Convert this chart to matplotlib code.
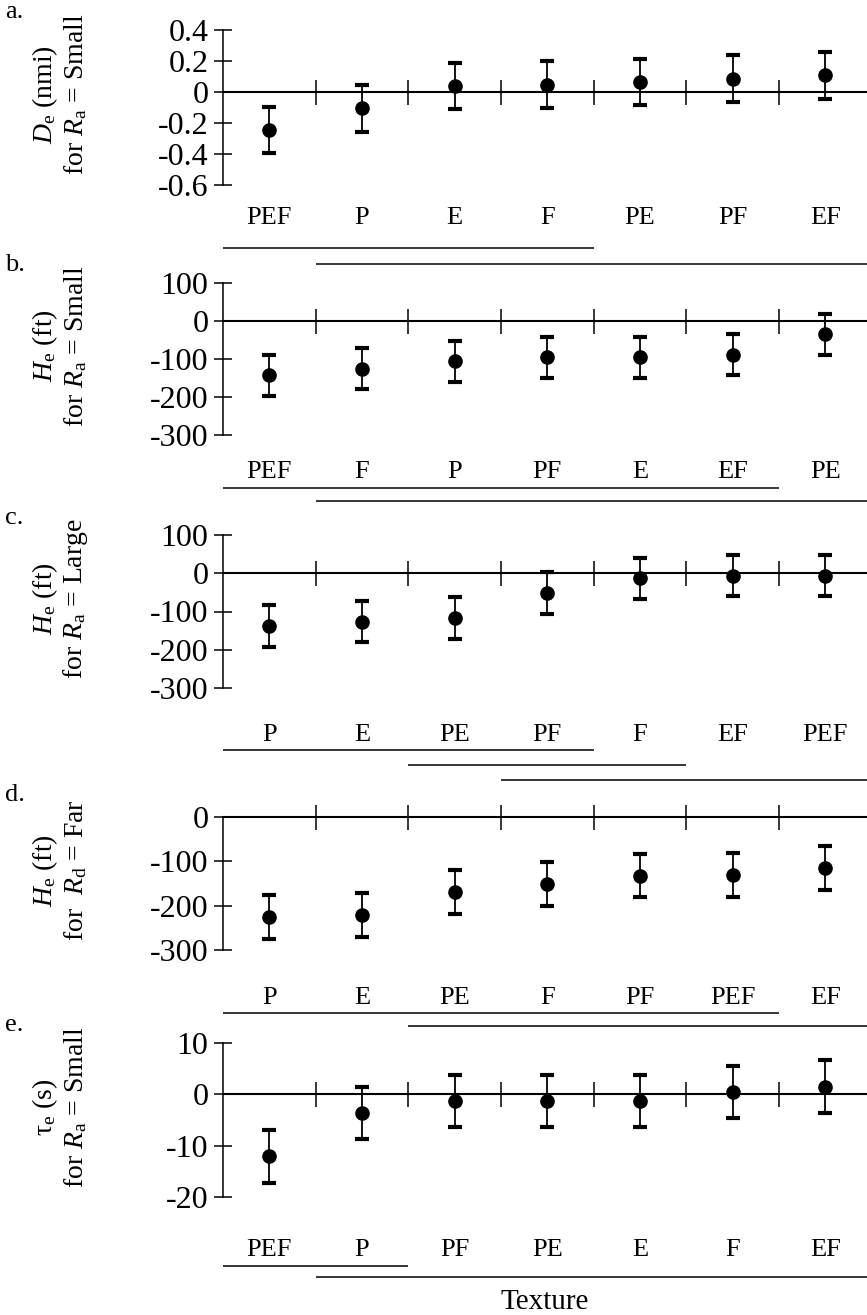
import matplotlib
matplotlib.use('Agg')
import matplotlib.pyplot as plt
import matplotlib.transforms as mtransforms

plt.rcParams['font.family'] = ['Liberation Serif', 'DejaVu Serif']
plt.rcParams['mathtext.fontset'] = 'custom'
plt.rcParams['mathtext.rm'] = 'Liberation Serif'
plt.rcParams['mathtext.it'] = 'Liberation Serif:italic'
plt.rcParams['mathtext.bf'] = 'Liberation Serif:bold'

# ---------------- data ----------------
cats_a = ['PEF', 'P', 'E', 'F', 'PE', 'PF', 'EF']
mean_a = [-0.245, -0.105, 0.038, 0.047, 0.063, 0.086, 0.108]
err_a = [0.15, 0.15, 0.15, 0.15, 0.15, 0.15, 0.15]
groups_a = [(0, 3), (1, 6)]
yticks_a = [0.4, 0.2, 0, -0.2, -0.4, -0.6]
yticklabels_a = ['0.4', '0.2', '0', '-0.2', '-0.4', '-0.6']

cats_b = ['PEF', 'F', 'P', 'PF', 'E', 'EF', 'PE']
mean_b = [-143, -125, -106, -95, -95, -89, -35]
err_b = [54, 54, 54, 54, 54, 54, 54]
groups_b = [(0, 5), (1, 6)]
yticks_b = [100, 0, -100, -200, -300]

cats_c = ['P', 'E', 'PE', 'PF', 'F', 'EF', 'PEF']
mean_c = [-137, -127, -117, -52, -13, -6, -6]
err_c = [55, 54, 54, 54, 54, 53, 53]
groups_c = [(0, 3), (2, 4), (3, 6)]
yticks_c = [100, 0, -100, -200, -300]

cats_d = ['P', 'E', 'PE', 'F', 'PF', 'PEF', 'EF']
mean_d = [-225, -222, -170, -152, -132, -130, -115]
err_d = [49.5, 49.5, 49.5, 49.5, 49.5, 49.5, 49.5]
groups_d = [(0, 5), (2, 6)]
yticks_d = [0, -100, -200, -300]

cats_e = ['PEF', 'P', 'PF', 'PE', 'E', 'F', 'EF']
mean_e = [-12.1, -3.6, -1.3, -1.3, -1.3, 0.5, 1.5]
err_e = [5.1, 5.1, 5.1, 5.1, 5.1, 5.1, 5.1]
groups_e = [(0, 1), (1, 6)]
yticks_e = [10, 0, -10, -20]

ylabels = [
    ('$\\mathit{D}_{\\mathrm{e}}$ (nmi)', 'for $\\mathit{R}_{\\mathrm{a}}$ = Small'),
    ('$\\mathit{H}_{\\mathrm{e}}$ (ft)', 'for $\\mathit{R}_{\\mathrm{a}}$ = Small'),
    ('$\\mathit{H}_{\\mathrm{e}}$ (ft)', 'for $\\mathit{R}_{\\mathrm{a}}$ = Large'),
    ('$\\mathit{H}_{\\mathrm{e}}$ (ft)', 'for  $\\mathit{R}_{\\mathrm{d}}$ = Far'),
    ('$\\mathrm{\\tau}_{\\mathrm{e}}$ (s)', 'for $\\mathit{R}_{\\mathrm{a}}$ = Small'),
]
letters = ['a.', 'b.', 'c.', 'd.', 'e.']

# ---------------- layout (pixels) ----------------
W, H = 867, 1315
FS_TICK = 23
FS_CAT = 19
FS_YLAB = 20
fig = plt.figure(figsize=(W / 100, H / 100), dpi=100)

panels = [
    dict(cats=cats_a, mean=mean_a, err=err_a, groups=groups_a, yt=yticks_a, ytl=yticklabels_a,
         top=30, bot=185, lab=218, lines=[248, 264], letter_y=12),
    dict(cats=cats_b, mean=mean_b, err=err_b, groups=groups_b, yt=yticks_b, ytl=None,
         top=283, bot=435, lab=472, lines=[488, 501], letter_y=265),
    dict(cats=cats_c, mean=mean_c, err=err_c, groups=groups_c, yt=yticks_c, ytl=None,
         top=535, bot=688, lab=735, lines=[750, 765, 780], letter_y=518),
    dict(cats=cats_d, mean=mean_d, err=err_d, groups=groups_d, yt=yticks_d, ytl=None,
         top=817, bot=950, lab=998, lines=[1013, 1026], letter_y=795),
    dict(cats=cats_e, mean=mean_e, err=err_e, groups=groups_e, yt=yticks_e, ytl=None,
         top=1043, bot=1197, lab=1250, lines=[1266, 1277], letter_y=1025),
]

X0, X1 = 223, 867


def fy(px):
    return 1 - px / H


for k, p in enumerate(panels):
    ax = fig.add_axes([X0 / W, fy(p['bot']), (X1 - X0) / W, (p['bot'] - p['top']) / H])
    n = len(p['cats'])
    xs = list(range(n))
    ax.errorbar(xs, p['mean'], yerr=p['err'], fmt='o', color='black', ms=9.5,
                elinewidth=1.3, capsize=4.8, capthick=3.0, zorder=5)
    ax.set_xlim(-0.5, n - 0.55)
    ax.set_ylim(min(p['yt']), max(p['yt']))
    for s in ['top', 'right']:
        ax.spines[s].set_visible(False)
    ax.spines['left'].set_linewidth(1.1)
    ax.spines['bottom'].set_position(('data', 0))
    ax.spines['bottom'].set_linewidth(1.5)
    ax.set_xticks([i + 0.5 for i in range(n - 1)])
    ax.set_xticklabels([])
    ax.tick_params(axis='x', direction='inout', length=18, width=1.1)
    ax.set_yticks(p['yt'])
    if p['ytl'] is not None:
        ax.set_yticklabels(p['ytl'])
    else:
        ax.set_yticklabels([str(v) for v in p['yt']])
    ax.tick_params(axis='y', direction='inout', length=13, width=1.1, labelsize=FS_TICK, pad=4)
    ax.patch.set_visible(False)

    tr = mtransforms.blended_transform_factory(ax.transData, fig.transFigure)
    for i, c in enumerate(p['cats']):
        ax.text(i, fy(p['lab']), c, transform=tr, ha='center', va='center', fontsize=FS_CAT,
                clip_on=False)
    for (g0, g1), ly in zip(p['groups'], p['lines']):
        ax.plot([g0 - 0.5, g1 + 0.5], [fy(ly), fy(ly)], transform=tr, color='black',
                lw=1.1, clip_on=False, solid_capstyle='butt')

    yc = fy((p['top'] + p['bot']) / 2 - 13)
    l1, l2 = ylabels[k]
    fig.text(45 / W, yc, l1, rotation=90, ha='center', va='center', fontsize=FS_YLAB)
    fig.text(76 / W, yc, l2, rotation=90, ha='center', va='center', fontsize=FS_YLAB)
    fig.text(5 / W, fy(p['letter_y']), letters[k], ha='left', va='center', fontsize=FS_CAT)

fig.text((X0 + 644 / 2) / W, fy(1302), 'Texture', ha='center', va='center', fontsize=21)

fig.savefig('out.png', dpi=100)
